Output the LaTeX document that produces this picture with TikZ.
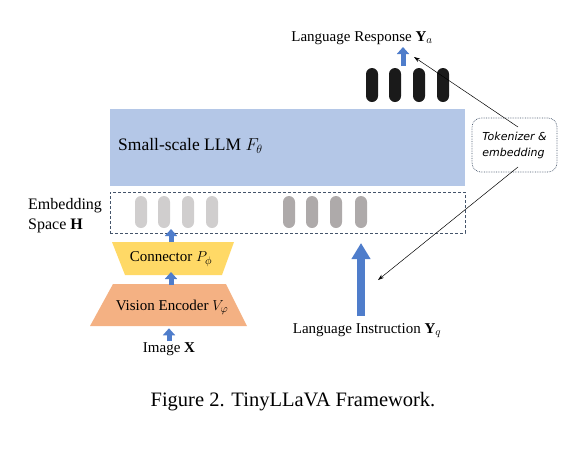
\documentclass[tikz,border=0pt]{standalone}
\usepackage{fontspec}
\setmainfont{Liberation Serif}
\newfontfamily\tokfont{DejaVu Sans}
\usetikzlibrary{arrows.meta,positioning}

\definecolor{llmblue}{HTML}{B4C7E7}
\definecolor{conyellow}{HTML}{FFD966}
\definecolor{encorange}{HTML}{F4B183}
\definecolor{arrowblue}{HTML}{4F7DCB}
\definecolor{dashgray}{HTML}{44546A}
\definecolor{pilllight}{HTML}{D0CECE}
\definecolor{pilldark}{HTML}{AEAAAA}
\definecolor{pillblack}{HTML}{1A1A1A}

\tikzset{
    pill/.style={rounded corners=6pt, minimum width=12pt, minimum height=32pt, inner sep=0pt},
    blueup/.style={draw=arrowblue, line width=5pt, -{Triangle[width=12pt,length=7pt]}},
    pointer/.style={draw=black, line width=0.5pt, -{Stealth[length=6pt,width=4pt]}},
    lbl/.style={font=\fontsize{15}{18}\selectfont, inner sep=1pt}
}

\begin{document}
\begin{tikzpicture}[x=1pt, y=-1pt]
        \useasboundingbox (0,0) rectangle (580,459);

        % LLM and embedding space
        \node[fill=llmblue, minimum width=355pt, minimum height=77pt, inner sep=0pt] (llm) at (287.5,147.5) {};
        \node[lbl, anchor=west, font=\fontsize{17.5}{20}\selectfont] (llmtext) at (117,146) {Small-scale LLM $F_\theta$};
        \node[draw=dashgray, dash pattern=on 3pt off 2pt, minimum width=355pt, minimum height=41pt, inner sep=0pt] (embed) at (287.5,212.5) {};
        \node[lbl, anchor=west, align=left, font=\fontsize{16}{20}\selectfont] (embtext) at (27,216) {Embedding\\Space $\mathbf{H}$};

        \foreach \x in {141,164,188,212}
            \node[pill, fill=pilllight] at (\x,212) {};
        \foreach \x in {289,312,336,361}
            \node[pill, fill=pilldark] at (\x,212) {};
        \foreach \x in {372,395,419,443}
            \node[pill, fill=pillblack, minimum height=34pt] at (\x,85) {};

        % vision side
        \fill[conyellow] (112,242) -- (234,242) -- (222,275) -- (125,275) -- cycle;
        \node[lbl] (connector) at (171,259) {Connector $P_\phi$};
        \fill[encorange] (113,284) -- (226,284) -- (247,326) -- (90,326) -- cycle;
        \node[lbl] (encoder) at (172,307) {Vision Encoder $V_\varphi$};
        \node[lbl] (image) at (169,349) {Image $\mathbf{X}$};

        \coordinate (c1) at (171,242);
        \coordinate (c2) at (171,285);
        \draw[blueup] (c1) -- ++(0,-13);
        \draw[blueup] (c2) -- ++(0,-13);
        \draw[blueup] (image.north) -- ++(0,-13);

        % language side
        \node[lbl] (instr) at (367,331) {Language Instruction $\mathbf{Y}_q$};
        \node[lbl] (resp) at (362,38) {Language Response $\mathbf{Y}_a$};
        \draw[blueup, line width=8pt, -{Triangle[width=18pt,length=16pt]}] (361,316) -- (361,243);
        \draw[blueup, line width=5pt] (403,66) -- (403,47);

        \node[draw=dashgray, densely dotted, line width=0.7pt, rounded corners=9pt, minimum width=85pt, minimum height=54pt,
            align=left, font=\tokfont\itshape\fontsize{11}{16}\selectfont] (tok) at (514.5,145) {Tokenizer \&\\embedding};
        \draw[pointer] (518,127) -- (414,57);
        \draw[pointer] (518,167) -- (378,280);

        \node[font=\fontsize{20.5}{24}\selectfont] (caption) at (293,402) {Figure 2. TinyLLaVA Framework.};
    \end{tikzpicture}
\end{document}
